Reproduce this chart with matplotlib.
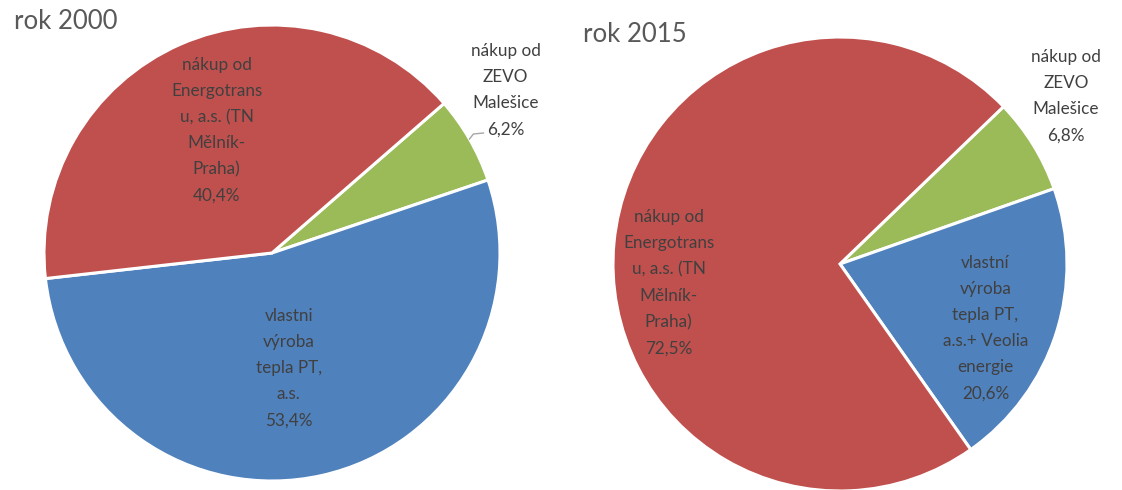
import numpy as np
import matplotlib
matplotlib.use("Agg")
import matplotlib.pyplot as plt

plt.rcParams['font.family'] = ['Lato', 'DejaVu Sans']

# data (order: green, blue, red - clockwise from the green slice)
names_2000 = ['nákup od\nZEVO\nMalešice', 'vlastni\nvýroba\ntepla PT,\na.s.',
              'nákup od\nEnergotrans\nu, a.s. (TN\nMělník-\nPraha)']
values_2000 = [6.2, 53.4, 40.4]
names_2015 = ['nákup od\nZEVO\nMalešice', 'vlastní\nvýroba\ntepla PT,\na.s.+ Veolia\nenergie',
              'nákup od\nEnergotrans\nu, a.s. (TN\nMělník-\nPraha)']
values_2015 = [6.8, 20.6, 72.5]
titles = ['rok 2000', 'rok 2015']
colors = ['#9BBB59', '#4F81BD', '#C0504D']

W, H = 1122, 490
fig = plt.figure(figsize=(W / 100, H / 100), dpi=100)
ax = fig.add_axes([0, 0, 1, 1])


def fmt(v):
    return ('%.1f%%' % v).replace('.', ',')


# layout: centre (px, y from top), radius, start angle, label (angle, dist in radii)
pies = [
    dict(names=names_2000, values=values_2000, title=titles[0], c=(272, 253), r=228,
         start=41, lab=[(34.9, 1.25), (-81.7, 0.51), (114.3, 0.59)], tpos=(14, 22)),
    dict(names=names_2015, values=values_2015, title=titles[1], c=(840, 264), r=227,
         start=43.9, lab=[(36.6, 1.24), (-23.8, 0.70), (186.3, 0.76)], tpos=(583, 35)),
]

for i, p in enumerate(pies):
    cx, cy = p['c'][0], H - p['c'][1]
    r = p['r']
    ax.pie(p['values'], colors=colors, startangle=p['start'], counterclock=False,
           center=(cx, cy), radius=r,
           wedgeprops=dict(edgecolor='white', linewidth=2.2))
    for name, v, (ang, d) in zip(p['names'], p['values'], p['lab']):
        a = np.radians(ang)
        ax.text(cx + d * r * np.cos(a), cy + d * r * np.sin(a), name + '\n' + fmt(v),
                ha='center', va='center', fontsize=12.3, color='#404040',
                linespacing=1.78)
    ax.text(p['tpos'][0], H - p['tpos'][1], p['title'], ha='left', va='center',
            fontsize=18.5, color='#595959')

# leader line for the small slice of 2000
cx, cy, r = 272, H - 253, 228
a = np.radians(30)
x0, y0 = cx + r * np.cos(a), cy + r * np.sin(a)
ax.plot([x0, x0 + 4, x0 + 14], [y0, y0 + 5, y0 + 6], color='#A6A6A6', lw=1)

ax.set_xlim(0, W)
ax.set_ylim(0, H)
ax.set_aspect('auto')
ax.axis('off')

fig.savefig('out.png', dpi=100, facecolor='white')
